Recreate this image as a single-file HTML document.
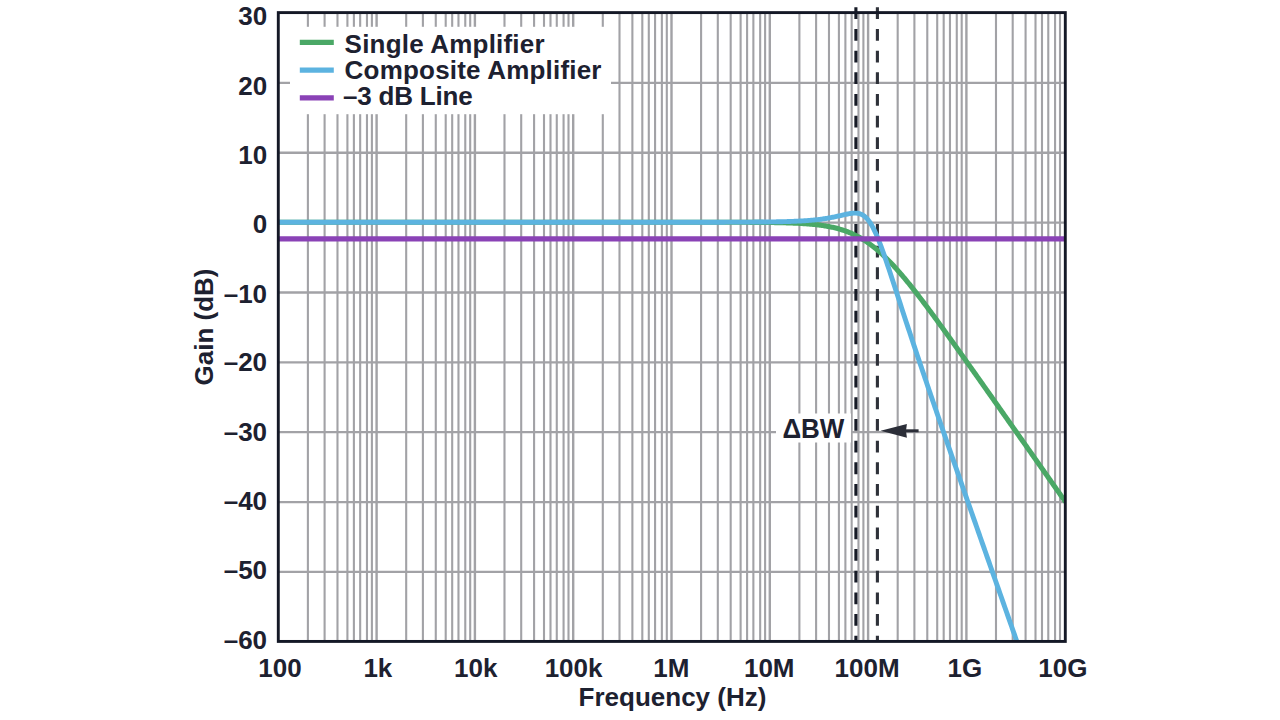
<!DOCTYPE html><html><head><meta charset="utf-8"><style>html,body{margin:0;padding:0;background:#fff;width:1280px;height:720px;overflow:hidden}svg{display:block}text{font-family:"Liberation Sans",sans-serif;font-weight:bold;fill:#1d2130}</style></head><body><svg width="1280" height="720" viewBox="0 0 1280 720"><rect width="1280" height="720" fill="#fff"/><path d="M307.89 12.60V641.43M324.60 12.60V641.43M337.48 12.60V641.43M347.41 12.60V641.43M353.89 12.60V641.43M360.17 12.60V641.43M366.97 12.60V641.43M371.90 12.60V641.43M406.19 12.60V641.43M422.90 12.60V641.43M435.78 12.60V641.43M445.71 12.60V641.43M452.19 12.60V641.43M458.47 12.60V641.43M465.27 12.60V641.43M470.20 12.60V641.43M504.49 12.60V641.43M521.20 12.60V641.43M534.08 12.60V641.43M544.01 12.60V641.43M550.49 12.60V641.43M556.77 12.60V641.43M563.57 12.60V641.43M568.50 12.60V641.43M602.79 12.60V641.43M619.50 12.60V641.43M632.38 12.60V641.43M642.31 12.60V641.43M648.79 12.60V641.43M655.07 12.60V641.43M661.87 12.60V641.43M666.80 12.60V641.43M701.09 12.60V641.43M717.80 12.60V641.43M730.68 12.60V641.43M740.61 12.60V641.43M747.09 12.60V641.43M753.37 12.60V641.43M760.17 12.60V641.43M765.10 12.60V641.43M799.39 12.60V641.43M816.10 12.60V641.43M828.98 12.60V641.43M838.91 12.60V641.43M845.39 12.60V641.43M851.67 12.60V641.43M858.47 12.60V641.43M863.40 12.60V641.43M897.69 12.60V641.43M914.40 12.60V641.43M927.28 12.60V641.43M937.21 12.60V641.43M943.69 12.60V641.43M949.97 12.60V641.43M956.77 12.60V641.43M961.70 12.60V641.43M995.99 12.60V641.43M1012.70 12.60V641.43M1025.58 12.60V641.43M1035.51 12.60V641.43M1041.99 12.60V641.43M1048.27 12.60V641.43M1055.07 12.60V641.43M1060.00 12.60V641.43" stroke="#a2a2a6" stroke-width="2.1" fill="none"/><path d="M376.60 12.60V641.43M474.90 12.60V641.43M573.20 12.60V641.43M671.50 12.60V641.43M769.80 12.60V641.43M868.10 12.60V641.43M966.40 12.60V641.43" stroke="#a2a2a6" stroke-width="2.4" fill="none"/><path d="M278.30 82.87H1064.70M278.30 152.74H1064.70M278.30 222.61H1064.70M278.30 292.48H1064.70M278.30 362.35H1064.70M278.30 432.22H1064.70M278.30 502.09H1064.70M278.30 571.96H1064.70" stroke="#a2a2a6" stroke-width="2.3" fill="none"/><rect x="290" y="26.8" width="321" height="87.4" fill="#fff"/><rect x="776" y="413.5" width="75" height="29" fill="#fff"/><line x1="855.90" y1="7.3" x2="855.90" y2="641.43" stroke="#161a26" stroke-width="3.1" stroke-dasharray="11.8 9.87"/><line x1="877.40" y1="7.3" x2="877.40" y2="641.43" stroke="#2e3139" stroke-width="3.1" stroke-dasharray="11.8 9.87"/><defs><clipPath id="pc"><rect x="278.30" y="12.60" width="786.40" height="628.83"/></clipPath></defs><g clip-path="url(#pc)"><polyline points="278.30,222.21 279.28,222.21 280.27,222.21 281.25,222.21 282.23,222.21 283.21,222.21 284.20,222.21 285.18,222.21 286.16,222.21 287.15,222.21 288.13,222.21 289.11,222.21 290.10,222.21 291.08,222.21 292.06,222.21 293.05,222.21 294.03,222.21 295.01,222.21 295.99,222.21 296.98,222.21 297.96,222.21 298.94,222.21 299.93,222.21 300.91,222.21 301.89,222.21 302.88,222.21 303.86,222.21 304.84,222.21 305.82,222.21 306.81,222.21 307.79,222.21 308.77,222.21 309.76,222.21 310.74,222.21 311.72,222.21 312.71,222.21 313.69,222.21 314.67,222.21 315.65,222.21 316.64,222.21 317.62,222.21 318.60,222.21 319.59,222.21 320.57,222.21 321.55,222.21 322.54,222.21 323.52,222.21 324.50,222.21 325.48,222.21 326.47,222.21 327.45,222.21 328.43,222.21 329.42,222.21 330.40,222.21 331.38,222.21 332.37,222.21 333.35,222.21 334.33,222.21 335.31,222.21 336.30,222.21 337.28,222.21 338.26,222.21 339.25,222.21 340.23,222.21 341.21,222.21 342.19,222.21 343.18,222.21 344.16,222.21 345.14,222.21 346.13,222.21 347.11,222.21 348.09,222.21 349.08,222.21 350.06,222.21 351.04,222.21 352.02,222.21 353.01,222.21 353.99,222.21 354.97,222.21 355.96,222.21 356.94,222.21 357.92,222.21 358.91,222.21 359.89,222.21 360.87,222.21 361.86,222.21 362.84,222.21 363.82,222.21 364.80,222.21 365.79,222.21 366.77,222.21 367.75,222.21 368.74,222.21 369.72,222.21 370.70,222.21 371.69,222.21 372.67,222.21 373.65,222.21 374.63,222.21 375.62,222.21 376.60,222.21 377.58,222.21 378.57,222.21 379.55,222.21 380.53,222.21 381.51,222.21 382.50,222.21 383.48,222.21 384.46,222.21 385.45,222.21 386.43,222.21 387.41,222.21 388.40,222.21 389.38,222.21 390.36,222.21 391.35,222.21 392.33,222.21 393.31,222.21 394.29,222.21 395.28,222.21 396.26,222.21 397.24,222.21 398.23,222.21 399.21,222.21 400.19,222.21 401.18,222.21 402.16,222.21 403.14,222.21 404.12,222.21 405.11,222.21 406.09,222.21 407.07,222.21 408.06,222.21 409.04,222.21 410.02,222.21 411.00,222.21 411.99,222.21 412.97,222.21 413.95,222.21 414.94,222.21 415.92,222.21 416.90,222.21 417.89,222.21 418.87,222.21 419.85,222.21 420.84,222.21 421.82,222.21 422.80,222.21 423.78,222.21 424.77,222.21 425.75,222.21 426.73,222.21 427.72,222.21 428.70,222.21 429.68,222.21 430.66,222.21 431.65,222.21 432.63,222.21 433.61,222.21 434.60,222.21 435.58,222.21 436.56,222.21 437.55,222.21 438.53,222.21 439.51,222.21 440.50,222.21 441.48,222.21 442.46,222.21 443.44,222.21 444.43,222.21 445.41,222.21 446.39,222.21 447.38,222.21 448.36,222.21 449.34,222.21 450.33,222.21 451.31,222.21 452.29,222.21 453.27,222.21 454.26,222.21 455.24,222.21 456.22,222.21 457.21,222.21 458.19,222.21 459.17,222.21 460.15,222.21 461.14,222.21 462.12,222.21 463.10,222.21 464.09,222.21 465.07,222.21 466.05,222.21 467.04,222.21 468.02,222.21 469.00,222.21 469.99,222.21 470.97,222.21 471.95,222.21 472.93,222.21 473.92,222.21 474.90,222.21 475.88,222.21 476.87,222.21 477.85,222.21 478.83,222.21 479.81,222.21 480.80,222.21 481.78,222.21 482.76,222.21 483.75,222.21 484.73,222.21 485.71,222.21 486.70,222.21 487.68,222.21 488.66,222.21 489.65,222.21 490.63,222.21 491.61,222.21 492.59,222.21 493.58,222.21 494.56,222.21 495.54,222.21 496.53,222.21 497.51,222.21 498.49,222.21 499.48,222.21 500.46,222.21 501.44,222.21 502.42,222.21 503.41,222.21 504.39,222.21 505.37,222.21 506.36,222.21 507.34,222.21 508.32,222.21 509.30,222.21 510.29,222.21 511.27,222.21 512.25,222.21 513.24,222.21 514.22,222.21 515.20,222.21 516.19,222.21 517.17,222.21 518.15,222.21 519.13,222.21 520.12,222.21 521.10,222.21 522.08,222.21 523.07,222.21 524.05,222.21 525.03,222.21 526.02,222.21 527.00,222.21 527.98,222.21 528.96,222.21 529.95,222.21 530.93,222.21 531.91,222.21 532.90,222.21 533.88,222.21 534.86,222.21 535.85,222.21 536.83,222.21 537.81,222.21 538.80,222.21 539.78,222.21 540.76,222.21 541.74,222.21 542.73,222.21 543.71,222.21 544.69,222.21 545.68,222.21 546.66,222.21 547.64,222.21 548.62,222.21 549.61,222.21 550.59,222.21 551.57,222.21 552.56,222.21 553.54,222.21 554.52,222.21 555.51,222.21 556.49,222.21 557.47,222.21 558.45,222.21 559.44,222.21 560.42,222.21 561.40,222.21 562.39,222.21 563.37,222.21 564.35,222.21 565.34,222.21 566.32,222.21 567.30,222.21 568.29,222.21 569.27,222.21 570.25,222.21 571.23,222.21 572.22,222.21 573.20,222.21 574.18,222.21 575.17,222.21 576.15,222.21 577.13,222.21 578.12,222.21 579.10,222.21 580.08,222.21 581.06,222.21 582.05,222.21 583.03,222.21 584.01,222.21 585.00,222.21 585.98,222.21 586.96,222.21 587.95,222.21 588.93,222.21 589.91,222.21 590.89,222.21 591.88,222.21 592.86,222.21 593.84,222.21 594.83,222.21 595.81,222.21 596.79,222.21 597.77,222.21 598.76,222.21 599.74,222.21 600.72,222.21 601.71,222.21 602.69,222.21 603.67,222.21 604.66,222.21 605.64,222.21 606.62,222.21 607.61,222.21 608.59,222.21 609.57,222.21 610.55,222.21 611.54,222.21 612.52,222.21 613.50,222.21 614.49,222.21 615.47,222.21 616.45,222.21 617.43,222.21 618.42,222.21 619.40,222.21 620.38,222.21 621.37,222.21 622.35,222.21 623.33,222.21 624.32,222.21 625.30,222.21 626.28,222.21 627.26,222.21 628.25,222.21 629.23,222.21 630.21,222.21 631.20,222.21 632.18,222.21 633.16,222.21 634.15,222.21 635.13,222.21 636.11,222.21 637.10,222.21 638.08,222.21 639.06,222.21 640.04,222.21 641.03,222.21 642.01,222.21 642.99,222.21 643.98,222.21 644.96,222.21 645.94,222.21 646.92,222.21 647.91,222.21 648.89,222.21 649.87,222.21 650.86,222.21 651.84,222.21 652.82,222.21 653.81,222.21 654.79,222.21 655.77,222.21 656.75,222.21 657.74,222.21 658.72,222.21 659.70,222.21 660.69,222.21 661.67,222.21 662.65,222.21 663.64,222.21 664.62,222.21 665.60,222.21 666.59,222.21 667.57,222.21 668.55,222.21 669.53,222.21 670.52,222.21 671.50,222.21 672.48,222.21 673.47,222.21 674.45,222.21 675.43,222.21 676.41,222.21 677.40,222.21 678.38,222.21 679.36,222.21 680.35,222.21 681.33,222.21 682.31,222.21 683.30,222.22 684.28,222.22 685.26,222.22 686.25,222.22 687.23,222.22 688.21,222.22 689.19,222.22 690.18,222.22 691.16,222.22 692.14,222.22 693.13,222.22 694.11,222.22 695.09,222.22 696.08,222.22 697.06,222.22 698.04,222.22 699.02,222.22 700.01,222.22 700.99,222.22 701.97,222.22 702.96,222.22 703.94,222.22 704.92,222.22 705.90,222.22 706.89,222.23 707.87,222.23 708.85,222.23 709.84,222.23 710.82,222.23 711.80,222.23 712.79,222.23 713.77,222.23 714.75,222.23 715.74,222.23 716.72,222.23 717.70,222.24 718.68,222.24 719.67,222.24 720.65,222.24 721.63,222.24 722.62,222.24 723.60,222.24 724.58,222.25 725.57,222.25 726.55,222.25 727.53,222.25 728.51,222.25 729.50,222.25 730.48,222.26 731.46,222.26 732.45,222.26 733.43,222.26 734.41,222.27 735.39,222.27 736.38,222.27 737.36,222.27 738.34,222.28 739.33,222.28 740.31,222.28 741.29,222.29 742.28,222.29 743.26,222.29 744.24,222.30 745.23,222.30 746.21,222.31 747.19,222.31 748.17,222.32 749.16,222.32 750.14,222.33 751.12,222.33 752.11,222.34 753.09,222.34 754.07,222.35 755.05,222.36 756.04,222.36 757.02,222.37 758.00,222.38 758.99,222.39 759.97,222.40 760.95,222.40 761.94,222.41 762.92,222.42 763.90,222.43 764.88,222.44 765.87,222.45 766.85,222.47 767.83,222.48 768.82,222.49 769.80,222.50 770.78,222.52 771.77,222.53 772.75,222.55 773.73,222.56 774.71,222.58 775.70,222.60 776.68,222.61 777.66,222.63 778.65,222.65 779.63,222.67 780.61,222.69 781.60,222.72 782.58,222.74 783.56,222.77 784.55,222.79 785.53,222.82 786.51,222.85 787.49,222.88 788.48,222.91 789.46,222.94 790.44,222.97 791.43,223.01 792.41,223.05 793.39,223.09 794.38,223.13 795.36,223.17 796.34,223.21 797.32,223.26 798.31,223.31 799.29,223.36 800.27,223.41 801.26,223.47 802.24,223.53 803.22,223.59 804.20,223.65 805.19,223.72 806.17,223.79 807.15,223.86 808.14,223.93 809.12,224.01 810.10,224.10 811.09,224.18 812.07,224.27 813.05,224.37 814.04,224.46 815.02,224.57 816.00,224.67 816.98,224.78 817.97,224.90 818.95,225.02 819.93,225.15 820.92,225.28 821.90,225.42 822.88,225.56 823.87,225.71 824.85,225.86 825.83,226.03 826.81,226.19 827.80,226.37 828.78,226.55 829.76,226.74 830.75,226.94 831.73,227.15 832.71,227.36 833.69,227.58 834.68,227.81 835.66,228.05 836.64,228.30 837.63,228.56 838.61,228.83 839.59,229.11 840.58,229.40 841.56,229.70 842.54,230.01 843.53,230.33 844.51,230.67 845.49,231.01 846.47,231.37 847.46,231.74 848.44,232.12 849.42,232.52 850.41,232.93 851.39,233.35 852.37,233.79 853.36,234.24 854.34,234.70 855.32,235.18 856.30,235.68 857.29,236.18 858.27,236.71 859.25,237.25 860.24,237.80 861.22,238.37 862.20,238.95 863.18,239.55 864.17,240.17 865.15,240.80 866.13,241.45 867.12,242.11 868.10,242.79 869.08,243.49 870.07,244.20 871.05,244.93 872.03,245.68 873.02,246.44 874.00,247.21 874.98,248.01 875.96,248.81 876.95,249.64 877.93,250.48 878.91,251.33 879.90,252.20 880.88,253.09 881.86,253.99 882.85,254.90 883.83,255.83 884.81,256.77 885.79,257.73 886.78,258.70 887.76,259.68 888.74,260.68 889.73,261.69 890.71,262.71 891.69,263.75 892.67,264.80 893.66,265.86 894.64,266.93 895.62,268.01 896.61,269.11 897.59,270.21 898.57,271.33 899.56,272.45 900.54,273.59 901.52,274.73 902.50,275.89 903.49,277.05 904.47,278.22 905.45,279.41 906.44,280.59 907.42,281.79 908.40,283.00 909.39,284.21 910.37,285.43 911.35,286.66 912.34,287.89 913.32,289.13 914.30,290.38 915.28,291.63 916.27,292.89 917.25,294.15 918.23,295.42 919.22,296.70 920.20,297.98 921.18,299.26 922.16,300.55 923.15,301.84 924.13,303.14 925.11,304.44 926.10,305.75 927.08,307.06 928.06,308.38 929.05,309.69 930.03,311.01 931.01,312.34 932.00,313.67 932.98,315.00 933.96,316.33 934.94,317.66 935.93,319.00 936.91,320.34 937.89,321.69 938.88,323.03 939.86,324.38 940.84,325.73 941.83,327.08 942.81,328.44 943.79,329.79 944.77,331.15 945.76,332.51 946.74,333.87 947.72,335.24 948.71,336.60 949.69,337.97 950.67,339.33 951.65,340.70 952.64,342.07 953.62,343.44 954.60,344.82 955.59,346.19 956.57,347.56 957.55,348.94 958.54,350.32 959.52,351.69 960.50,353.07 961.48,354.45 962.47,355.83 963.45,357.21 964.43,358.59 965.42,359.97 966.40,361.36 967.38,362.74 968.37,364.13 969.35,365.51 970.33,366.89 971.32,368.28 972.30,369.67 973.28,371.05 974.26,372.44 975.25,373.83 976.23,375.22 977.21,376.61 978.20,377.99 979.18,379.38 980.16,380.77 981.14,382.16 982.13,383.55 983.11,384.94 984.09,386.34 985.08,387.73 986.06,389.12 987.04,390.51 988.03,391.90 989.01,393.29 989.99,394.69 990.97,396.08 991.96,397.47 992.94,398.87 993.92,400.26 994.91,401.65 995.89,403.05 996.87,404.44 997.86,405.83 998.84,407.23 999.82,408.62 1000.81,410.02 1001.79,411.41 1002.77,412.81 1003.75,414.20 1004.74,415.60 1005.72,416.99 1006.70,418.39 1007.69,419.78 1008.67,421.18 1009.65,422.57 1010.63,423.97 1011.62,425.36 1012.60,426.76 1013.58,428.16 1014.57,429.55 1015.55,430.95 1016.53,432.34 1017.52,433.74 1018.50,435.14 1019.48,436.53 1020.47,437.93 1021.45,439.32 1022.43,440.72 1023.41,442.12 1024.40,443.51 1025.38,444.91 1026.36,446.31 1027.35,447.70 1028.33,449.10 1029.31,450.50 1030.30,451.89 1031.28,453.29 1032.26,454.69 1033.24,456.08 1034.23,457.48 1035.21,458.88 1036.19,460.27 1037.18,461.67 1038.16,463.07 1039.14,464.46 1040.12,465.86 1041.11,467.26 1042.09,468.66 1043.07,470.05 1044.06,471.45 1045.04,472.85 1046.02,474.24 1047.01,475.64 1047.99,477.04 1048.97,478.43 1049.95,479.83 1050.94,481.23 1051.92,482.63 1052.90,484.02 1053.89,485.42 1054.87,486.82 1055.85,488.21 1056.84,489.61 1057.82,491.01 1058.80,492.41 1059.78,493.80 1060.77,495.20 1061.75,496.60 1062.73,498.00 1063.72,499.39 1064.70,500.79" fill="none" stroke="#4aa866" stroke-width="5.1" stroke-linejoin="round" stroke-linecap="round"/><polyline points="278.30,222.21 279.28,222.21 280.27,222.21 281.25,222.21 282.23,222.21 283.21,222.21 284.20,222.21 285.18,222.21 286.16,222.21 287.15,222.21 288.13,222.21 289.11,222.21 290.10,222.21 291.08,222.21 292.06,222.21 293.05,222.21 294.03,222.21 295.01,222.21 295.99,222.21 296.98,222.21 297.96,222.21 298.94,222.21 299.93,222.21 300.91,222.21 301.89,222.21 302.88,222.21 303.86,222.21 304.84,222.21 305.82,222.21 306.81,222.21 307.79,222.21 308.77,222.21 309.76,222.21 310.74,222.21 311.72,222.21 312.71,222.21 313.69,222.21 314.67,222.21 315.65,222.21 316.64,222.21 317.62,222.21 318.60,222.21 319.59,222.21 320.57,222.21 321.55,222.21 322.54,222.21 323.52,222.21 324.50,222.21 325.48,222.21 326.47,222.21 327.45,222.21 328.43,222.21 329.42,222.21 330.40,222.21 331.38,222.21 332.37,222.21 333.35,222.21 334.33,222.21 335.31,222.21 336.30,222.21 337.28,222.21 338.26,222.21 339.25,222.21 340.23,222.21 341.21,222.21 342.19,222.21 343.18,222.21 344.16,222.21 345.14,222.21 346.13,222.21 347.11,222.21 348.09,222.21 349.08,222.21 350.06,222.21 351.04,222.21 352.02,222.21 353.01,222.21 353.99,222.21 354.97,222.21 355.96,222.21 356.94,222.21 357.92,222.21 358.91,222.21 359.89,222.21 360.87,222.21 361.86,222.21 362.84,222.21 363.82,222.21 364.80,222.21 365.79,222.21 366.77,222.21 367.75,222.21 368.74,222.21 369.72,222.21 370.70,222.21 371.69,222.21 372.67,222.21 373.65,222.21 374.63,222.21 375.62,222.21 376.60,222.21 377.58,222.21 378.57,222.21 379.55,222.21 380.53,222.21 381.51,222.21 382.50,222.21 383.48,222.21 384.46,222.21 385.45,222.21 386.43,222.21 387.41,222.21 388.40,222.21 389.38,222.21 390.36,222.21 391.35,222.21 392.33,222.21 393.31,222.21 394.29,222.21 395.28,222.21 396.26,222.21 397.24,222.21 398.23,222.21 399.21,222.21 400.19,222.21 401.18,222.21 402.16,222.21 403.14,222.21 404.12,222.21 405.11,222.21 406.09,222.21 407.07,222.21 408.06,222.21 409.04,222.21 410.02,222.21 411.00,222.21 411.99,222.21 412.97,222.21 413.95,222.21 414.94,222.21 415.92,222.21 416.90,222.21 417.89,222.21 418.87,222.21 419.85,222.21 420.84,222.21 421.82,222.21 422.80,222.21 423.78,222.21 424.77,222.21 425.75,222.21 426.73,222.21 427.72,222.21 428.70,222.21 429.68,222.21 430.66,222.21 431.65,222.21 432.63,222.21 433.61,222.21 434.60,222.21 435.58,222.21 436.56,222.21 437.55,222.21 438.53,222.21 439.51,222.21 440.50,222.21 441.48,222.21 442.46,222.21 443.44,222.21 444.43,222.21 445.41,222.21 446.39,222.21 447.38,222.21 448.36,222.21 449.34,222.21 450.33,222.21 451.31,222.21 452.29,222.21 453.27,222.21 454.26,222.21 455.24,222.21 456.22,222.21 457.21,222.21 458.19,222.21 459.17,222.21 460.15,222.21 461.14,222.21 462.12,222.21 463.10,222.21 464.09,222.21 465.07,222.21 466.05,222.21 467.04,222.21 468.02,222.21 469.00,222.21 469.99,222.21 470.97,222.21 471.95,222.21 472.93,222.21 473.92,222.21 474.90,222.21 475.88,222.21 476.87,222.21 477.85,222.21 478.83,222.21 479.81,222.21 480.80,222.21 481.78,222.21 482.76,222.21 483.75,222.21 484.73,222.21 485.71,222.21 486.70,222.21 487.68,222.21 488.66,222.21 489.65,222.21 490.63,222.21 491.61,222.21 492.59,222.21 493.58,222.21 494.56,222.21 495.54,222.21 496.53,222.21 497.51,222.21 498.49,222.21 499.48,222.21 500.46,222.21 501.44,222.21 502.42,222.21 503.41,222.21 504.39,222.21 505.37,222.21 506.36,222.21 507.34,222.21 508.32,222.21 509.30,222.21 510.29,222.21 511.27,222.21 512.25,222.21 513.24,222.21 514.22,222.21 515.20,222.21 516.19,222.21 517.17,222.21 518.15,222.21 519.13,222.21 520.12,222.21 521.10,222.21 522.08,222.21 523.07,222.21 524.05,222.21 525.03,222.21 526.02,222.21 527.00,222.21 527.98,222.21 528.96,222.21 529.95,222.21 530.93,222.21 531.91,222.21 532.90,222.21 533.88,222.21 534.86,222.21 535.85,222.21 536.83,222.21 537.81,222.21 538.80,222.21 539.78,222.21 540.76,222.21 541.74,222.21 542.73,222.21 543.71,222.21 544.69,222.21 545.68,222.21 546.66,222.21 547.64,222.21 548.62,222.21 549.61,222.21 550.59,222.21 551.57,222.21 552.56,222.21 553.54,222.21 554.52,222.21 555.51,222.21 556.49,222.21 557.47,222.21 558.45,222.21 559.44,222.21 560.42,222.21 561.40,222.21 562.39,222.21 563.37,222.21 564.35,222.21 565.34,222.21 566.32,222.21 567.30,222.21 568.29,222.21 569.27,222.21 570.25,222.21 571.23,222.21 572.22,222.21 573.20,222.21 574.18,222.21 575.17,222.21 576.15,222.21 577.13,222.21 578.12,222.21 579.10,222.21 580.08,222.21 581.06,222.21 582.05,222.21 583.03,222.21 584.01,222.21 585.00,222.21 585.98,222.21 586.96,222.21 587.95,222.21 588.93,222.21 589.91,222.21 590.89,222.21 591.88,222.21 592.86,222.21 593.84,222.21 594.83,222.21 595.81,222.21 596.79,222.21 597.77,222.21 598.76,222.21 599.74,222.21 600.72,222.21 601.71,222.21 602.69,222.21 603.67,222.21 604.66,222.21 605.64,222.21 606.62,222.21 607.61,222.21 608.59,222.21 609.57,222.21 610.55,222.21 611.54,222.21 612.52,222.21 613.50,222.21 614.49,222.21 615.47,222.21 616.45,222.21 617.43,222.21 618.42,222.21 619.40,222.21 620.38,222.21 621.37,222.21 622.35,222.21 623.33,222.21 624.32,222.21 625.30,222.21 626.28,222.21 627.26,222.21 628.25,222.21 629.23,222.21 630.21,222.21 631.20,222.21 632.18,222.21 633.16,222.21 634.15,222.21 635.13,222.21 636.11,222.21 637.10,222.21 638.08,222.21 639.06,222.21 640.04,222.21 641.03,222.21 642.01,222.21 642.99,222.21 643.98,222.21 644.96,222.21 645.94,222.21 646.92,222.21 647.91,222.21 648.89,222.21 649.87,222.21 650.86,222.21 651.84,222.21 652.82,222.21 653.81,222.21 654.79,222.21 655.77,222.21 656.75,222.21 657.74,222.21 658.72,222.21 659.70,222.21 660.69,222.21 661.67,222.21 662.65,222.21 663.64,222.21 664.62,222.21 665.60,222.21 666.59,222.21 667.57,222.21 668.55,222.21 669.53,222.21 670.52,222.21 671.50,222.21 672.48,222.21 673.47,222.21 674.45,222.21 675.43,222.21 676.41,222.21 677.40,222.21 678.38,222.21 679.36,222.21 680.35,222.21 681.33,222.21 682.31,222.21 683.30,222.20 684.28,222.20 685.26,222.20 686.25,222.20 687.23,222.20 688.21,222.20 689.19,222.20 690.18,222.20 691.16,222.20 692.14,222.20 693.13,222.20 694.11,222.20 695.09,222.20 696.08,222.20 697.06,222.20 698.04,222.20 699.02,222.20 700.01,222.20 700.99,222.20 701.97,222.20 702.96,222.20 703.94,222.20 704.92,222.20 705.90,222.20 706.89,222.19 707.87,222.19 708.85,222.19 709.84,222.19 710.82,222.19 711.80,222.19 712.79,222.19 713.77,222.19 714.75,222.19 715.74,222.19 716.72,222.19 717.70,222.18 718.68,222.18 719.67,222.18 720.65,222.18 721.63,222.18 722.62,222.18 723.60,222.18 724.58,222.18 725.57,222.17 726.55,222.17 727.53,222.17 728.51,222.17 729.50,222.17 730.48,222.16 731.46,222.16 732.45,222.16 733.43,222.16 734.41,222.15 735.39,222.15 736.38,222.15 737.36,222.15 738.34,222.14 739.33,222.14 740.31,222.14 741.29,222.13 742.28,222.13 743.26,222.13 744.24,222.12 745.23,222.12 746.21,222.11 747.19,222.11 748.17,222.10 749.16,222.10 750.14,222.09 751.12,222.09 752.11,222.08 753.09,222.08 754.07,222.07 755.05,222.06 756.04,222.06 757.02,222.05 758.00,222.04 758.99,222.04 759.97,222.03 760.95,222.02 761.94,222.01 762.92,222.00 763.90,221.99 764.88,221.98 765.87,221.97 766.85,221.96 767.83,221.95 768.82,221.93 769.80,221.92 770.78,221.91 771.77,221.89 772.75,221.88 773.73,221.86 774.71,221.85 775.70,221.83 776.68,221.81 777.66,221.79 778.65,221.77 779.63,221.75 780.61,221.73 781.60,221.71 782.58,221.68 783.56,221.66 784.55,221.63 785.53,221.61 786.51,221.58 787.49,221.55 788.48,221.52 789.46,221.49 790.44,221.45 791.43,221.42 792.41,221.38 793.39,221.34 794.38,221.30 795.36,221.26 796.34,221.22 797.32,221.17 798.31,221.12 799.29,221.07 800.27,221.02 801.26,220.97 802.24,220.91 803.22,220.85 804.20,220.79 805.19,220.72 806.17,220.65 807.15,220.58 808.14,220.51 809.12,220.43 810.10,220.35 811.09,220.26 812.07,220.18 813.05,220.09 814.04,219.99 815.02,219.89 816.00,219.79 816.98,219.68 817.97,219.56 818.95,219.45 819.93,219.33 820.92,219.20 821.90,219.07 822.88,218.93 823.87,218.79 824.85,218.64 825.83,218.49 826.81,218.33 827.80,218.16 828.78,217.99 829.76,217.82 830.75,217.64 831.73,217.45 832.71,217.26 833.69,217.06 834.68,216.86 835.66,216.65 836.64,216.44 837.63,216.22 838.61,216.00 839.59,215.78 840.58,215.56 841.56,215.33 842.54,215.10 843.53,214.88 844.51,214.66 845.49,214.44 846.47,214.23 847.46,214.02 848.44,213.83 849.42,213.65 850.41,213.49 851.39,213.35 852.37,213.24 853.36,213.15 854.34,213.11 855.32,213.10 856.30,213.14 857.29,213.23 858.27,213.39 859.25,213.61 860.24,213.91 861.22,214.29 862.20,214.76 863.18,215.34 864.17,216.01 865.15,216.81 866.13,217.72 867.12,218.75 868.10,219.91 869.08,221.20 870.07,222.62 871.05,224.17 872.03,225.85 873.02,227.66 874.00,229.59 874.98,231.64 875.96,233.79 876.95,236.05 877.93,238.41 878.91,240.85 879.90,243.38 880.88,245.97 881.86,248.64 882.85,251.36 883.83,254.13 884.81,256.95 885.79,259.80 886.78,262.70 887.76,265.61 888.74,268.56 889.73,271.52 890.71,274.50 891.69,277.49 892.67,280.49 893.66,283.50 894.64,286.52 895.62,289.53 896.61,292.55 897.59,295.58 898.57,298.60 899.56,301.62 900.54,304.63 901.52,307.64 902.50,310.65 903.49,313.66 904.47,316.66 905.45,319.66 906.44,322.65 907.42,325.63 908.40,328.61 909.39,331.58 910.37,334.55 911.35,337.51 912.34,340.47 913.32,343.42 914.30,346.37 915.28,349.31 916.27,352.24 917.25,355.17 918.23,358.10 919.22,361.02 920.20,363.93 921.18,366.84 922.16,369.75 923.15,372.65 924.13,375.55 925.11,378.44 926.10,381.33 927.08,384.22 928.06,387.10 929.05,389.97 930.03,392.85 931.01,395.72 932.00,398.59 932.98,401.45 933.96,404.32 934.94,407.17 935.93,410.03 936.91,412.88 937.89,415.74 938.88,418.58 939.86,421.43 940.84,424.27 941.83,427.12 942.81,429.96 943.79,432.79 944.77,435.63 945.76,438.47 946.74,441.30 947.72,444.13 948.71,446.96 949.69,449.79 950.67,452.61 951.65,455.44 952.64,458.26 953.62,461.08 954.60,463.90 955.59,466.72 956.57,469.54 957.55,472.36 958.54,475.18 959.52,477.99 960.50,480.81 961.48,483.62 962.47,486.44 963.45,489.25 964.43,492.06 965.42,494.87 966.40,497.68 967.38,500.49 968.37,503.30 969.35,506.11 970.33,508.92 971.32,511.72 972.30,514.53 973.28,517.33 974.26,520.14 975.25,522.94 976.23,525.75 977.21,528.55 978.20,531.36 979.18,534.16 980.16,536.96 981.14,539.77 982.13,542.57 983.11,545.37 984.09,548.17 985.08,550.97 986.06,553.77 987.04,556.57 988.03,559.37 989.01,562.17 989.99,564.97 990.97,567.77 991.96,570.57 992.94,573.37 993.92,576.17 994.91,578.97 995.89,581.77 996.87,584.57 997.86,587.37 998.84,590.16 999.82,592.96 1000.81,595.76 1001.79,598.56 1002.77,601.36 1003.75,604.15 1004.74,606.95 1005.72,609.75 1006.70,612.55 1007.69,615.34 1008.67,618.14 1009.65,620.94 1010.63,623.73 1011.62,626.53 1012.60,629.33 1013.58,632.12 1014.57,634.92 1015.55,637.72 1016.53,640.51 1017.52,643.31 1018.50,646.10 1019.48,648.90 1020.47,651.70 1021.45,654.49 1022.43,657.29 1023.41,660.08 1024.40,662.88 1025.38,665.68 1026.36,668.47 1027.35,671.27 1028.33,674.06 1029.31,676.86 1030.30,679.65 1031.28,682.45 1032.26,685.24 1033.24,688.04 1034.23,690.84 1035.21,693.63 1036.19,696.43 1037.18,699.22 1038.16,702.02 1039.14,704.81 1040.12,707.61 1041.11,710.40 1042.09,713.20 1043.07,715.99 1044.06,718.79 1045.04,721.58 1046.02,724.38 1047.01,727.17 1047.99,729.97 1048.97,732.76 1049.95,735.56 1050.94,738.35 1051.92,741.15 1052.90,743.94 1053.89,746.74 1054.87,749.53 1055.85,752.33 1056.84,755.12 1057.82,757.92 1058.80,760.71 1059.78,763.51 1060.77,766.30 1061.75,769.10 1062.73,771.89 1063.72,774.69 1064.70,777.48" fill="none" stroke="#5cb3e0" stroke-width="4.9" stroke-linejoin="round" stroke-linecap="round"/><line x1="278.30" y1="238.8" x2="1064.70" y2="238.8" stroke="#8a42b6" stroke-width="5.2"/></g><path d="M880.6 430.8 L906.9 423.9 L906.0 430.8 L906.9 437.8 Z" fill="#2b2e38"/><line x1="904" y1="430.8" x2="918.6" y2="430.8" stroke="#2b2e38" stroke-width="3"/><rect x="278.30" y="12.60" width="787.00" height="628.83" fill="none" stroke="#141826" stroke-width="2.9"/><line x1="299.8" y1="42.40" x2="333.8" y2="42.40" stroke="#4aa866" stroke-width="5.2"/><text x="344.60" y="52.50" font-size="26" letter-spacing="0.20">Single Amplifier</text><line x1="299.8" y1="70.15" x2="333.8" y2="70.15" stroke="#5cb3e0" stroke-width="5.2"/><text x="344.60" y="78.90" font-size="26" letter-spacing="0.20">Composite Amplifier</text><line x1="299.8" y1="97.90" x2="333.8" y2="97.90" stroke="#8a42b6" stroke-width="5.2"/><text x="343.00" y="105.30" font-size="26" letter-spacing="-0.20">–3 dB Line</text><text x="267.1" y="24.70" font-size="26" text-anchor="end">30</text><text x="267.1" y="94.70" font-size="26" text-anchor="end">20</text><text x="267.1" y="164.10" font-size="26" text-anchor="end">10</text><text x="267.1" y="233.10" font-size="26" text-anchor="end">0</text><text x="267.1" y="302.70" font-size="26" text-anchor="end">–10</text><text x="267.1" y="371.30" font-size="26" text-anchor="end">–20</text><text x="267.1" y="440.60" font-size="26" text-anchor="end">–30</text><text x="267.1" y="510.30" font-size="26" text-anchor="end">–40</text><text x="267.1" y="578.70" font-size="26" text-anchor="end">–50</text><text x="267.1" y="649.40" font-size="26" text-anchor="end">–60</text><text x="280.00" y="677" font-size="26" text-anchor="middle">100</text><text x="377.85" y="677" font-size="26" text-anchor="middle">1k</text><text x="475.70" y="677" font-size="26" text-anchor="middle">10k</text><text x="573.55" y="677" font-size="26" text-anchor="middle">100k</text><text x="671.40" y="677" font-size="26" text-anchor="middle">1M</text><text x="769.25" y="677" font-size="26" text-anchor="middle">10M</text><text x="867.10" y="677" font-size="26" text-anchor="middle">100M</text><text x="964.95" y="677" font-size="26" text-anchor="middle">1G</text><text x="1062.80" y="677" font-size="26" text-anchor="middle">10G</text><text x="672.5" y="706" font-size="26" text-anchor="middle">Frequency (Hz)</text><text transform="translate(213.3 327) rotate(-90)" x="0" y="0" font-size="26" text-anchor="middle">Gain (dB)</text><text transform="translate(782.4 438.1) scale(0.928 1)" x="0" y="0" font-size="28">ΔBW</text></svg></body></html>
